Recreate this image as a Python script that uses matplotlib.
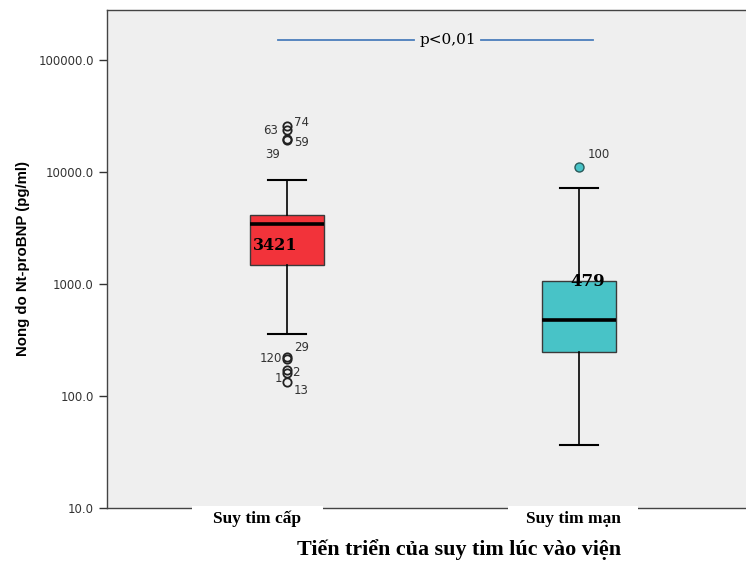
import numpy as np
import matplotlib.pyplot as plt
from matplotlib.patches import Rectangle

# nhom va so lieu hop (pg/ml)
groups = ["Suy tim cấp", "Suy tim mạn"]
q1 = [1480, 247]
median = [3421, 479]
q3 = [4130, 1064]
whis_lo = [358, 36.5]
whis_hi = [8490, 7200]

# ngoai lai nhom 1 (so thu tu benh nhan, gia tri)
out1_id = ["74", "63", "59", "39", "29", "120", "2", "1", "13"]
out1_val = [25500, 23500, 19800, 19200, 222, 216, 172, 160, 133]
out2_id = ["100"]
out2_val = [11100]

# vi tri nhan so thu tu (diem)
out1_off = [(5, 3), (-17, 0), (5, -3), (-16, -10), (5, 7), (-20, 0), (4, -2), (-9, -4), (5, -6)]

box_colors = ["#f2333a", "#48c3c7"]

fig = plt.figure(figsize=(7.46, 5.64), dpi=100)
ax = fig.add_axes([0.1434, 0.0993, 0.8566, 0.883])
ax.set_facecolor("#efefef")

stats = []
for i in range(2):
    stats.append(dict(q1=q1[i], med=median[i], q3=q3[i],
                      whislo=whis_lo[i], whishi=whis_hi[i], fliers=[]))

bp = ax.bxp(stats, positions=[1, 2], widths=0.253, patch_artist=True,
            showfliers=False,
            boxprops=dict(edgecolor="#3a3a3a", linewidth=1),
            medianprops=dict(color="black", linewidth=2.6),
            whiskerprops=dict(color="black", linewidth=1.2),
            capprops=dict(color="black", linewidth=1.5))
for patch, c in zip(bp["boxes"], box_colors):
    patch.set_facecolor(c)
for cap in bp["caps"]:
    x = cap.get_xdata()
    m = x.mean()
    cap.set_xdata([m - 0.064, m + 0.064])

# ngoai lai
ax.plot([1] * len(out1_val), out1_val, "o", mfc="none", mec="#222222", ms=6, mew=1.3)
ax.plot([2] * len(out2_val), out2_val, "o", mfc="#48c3c7", mec="#2a5a5a", ms=6.5, mew=1)
for lab, v, off in zip(out1_id, out1_val, out1_off):
    ax.annotate(lab, (1, v), xytext=off, textcoords="offset points",
                fontsize=8.5, color="#333333", va="center", ha="left")
for lab, v in zip(out2_id, out2_val):
    ax.annotate(lab, (2, v), xytext=(6, 9), textcoords="offset points",
                fontsize=8.5, color="#333333", va="center", ha="left")

# trung vi
ax.text(0.885, median[0] * 0.64, str(median[0]), fontsize=11.5, fontweight="bold",
        family="DejaVu Serif", va="center", ha="left")
ax.text(1.97, median[1] * 2.2, str(median[1]), fontsize=12, fontweight="bold",
        family="DejaVu Serif", va="center", ha="left")

ax.set_yscale("log")
ax.set_ylim(10, 279000)
ax.set_xlim(0.3836, 2.572)
ax.set_yticks([10, 100, 1000, 10000, 100000])
ax.set_yticklabels(["10.0", "100.0", "1000.0", "10000.0", "100000.0"])
ax.minorticks_off()
ax.set_xticks([])
ax.tick_params(axis="y", direction="out", length=6, width=1, color="#333333",
               labelsize=8.5, labelcolor="#333333")
for s in ["left", "top", "bottom"]:
    ax.spines[s].set_color("#444444")
    ax.spines[s].set_linewidth(1)
ax.spines["right"].set_visible(False)

ax.set_ylabel("Nong do Nt-proBNP (pg/ml)", fontsize=10.8, fontweight="bold",
              family="Liberation Sans", labelpad=6)

# p value
ax.plot([0.9691, 1.435], [150000, 150000], color="#4a7ebb", lw=1.3)
ax.plot([1.664, 2.048], [150000, 150000], color="#4a7ebb", lw=1.3)
ax.text(1.55, 150000, "p<0,01", fontsize=11, family="DejaVu Serif",
        ha="center", va="center")

# nen trang cho nhan nhom
for x0, x1 in [(192, 323), (508, 638)]:
    fig.patches.append(Rectangle((x0 / 746, 1 - 534 / 564), (x1 - x0) / 746, 28 / 564,
                                 transform=fig.transFigure, facecolor="white",
                                 edgecolor="none", zorder=5))

# nhan nhom va tieu de truc x
label_x = [257, 573]
for lab, x in zip(groups, label_x):
    fig.text(x / 746, 1 - 519 / 564, lab, fontsize=12.5, fontweight="bold",
             family="Liberation Serif", ha="center", va="center", zorder=6)
fig.text(459 / 746, 1 - 550 / 564, "Tiến triển của suy tim lúc vào viện",
         fontsize=15.8, fontweight="bold", family="Liberation Serif",
         ha="center", va="center")

fig.savefig("out.png", dpi=100)
